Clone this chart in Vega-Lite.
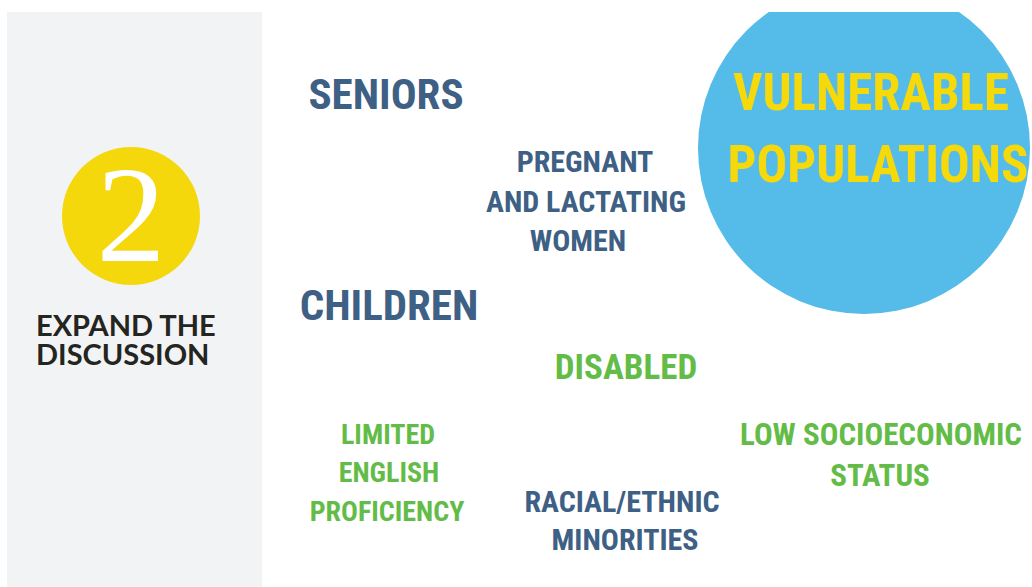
{
  "$schema": "https://vega.github.io/schema/vega-lite/v6.json",
  "width": 1032,
  "height": 587,
  "padding": 0,
  "autosize": {"type": "none"},
  "background": "#ffffff",
  "config": {"view": {"stroke": null}},
  "datasets": {
    "panels": [
      {"name": "sidebar", "x": 7, "x2": 262, "y": 12, "y2": 587}
    ],
    "masks": [
      {"name": "topmargin", "x": 600, "x2": 1032, "y": 0, "y2": 12}
    ],
    "badge": [{"name": "step", "x": 131, "y": 216}],
    "bubble": [{"name": "topic", "x": 864, "y": 148}],
    "labels": [
      {"text": "2", "x": 131, "y": 261, "tone": "white", "tier": "numeral"},
      {"text": "EXPAND THE", "x": 36, "y": 336, "tone": "dark", "tier": "caption"},
      {"text": "DISCUSSION", "x": 36, "y": 365, "tone": "dark", "tier": "caption"},
      {"text": "VULNERABLE", "x": 871, "y": 95, "tone": "yellow", "tier": "title"},
      {"text": "POPULATIONS", "x": 878, "y": 167, "tone": "yellow", "tier": "title"},
      {"text": "SENIORS", "x": 386, "y": 96, "tone": "slate", "tier": "major"},
      {"text": "CHILDREN", "x": 389, "y": 307, "tone": "slate", "tier": "major"},
      {"text": "PREGNANT", "x": 585, "y": 163, "tone": "slate", "tier": "pregnant"},
      {"text": "AND LACTATING", "x": 586, "y": 203, "tone": "slate", "tier": "pregnant"},
      {"text": "WOMEN", "x": 578, "y": 242, "tone": "slate", "tier": "pregnant"},
      {"text": "DISABLED", "x": 626, "y": 368, "tone": "green", "tier": "disabled"},
      {"text": "LIMITED", "x": 388, "y": 436, "tone": "green", "tier": "limited"},
      {"text": "ENGLISH", "x": 389, "y": 474, "tone": "green", "tier": "limited"},
      {"text": "PROFICIENCY", "x": 387, "y": 513, "tone": "green", "tier": "limited"},
      {"text": "RACIAL/ETHNIC", "x": 622, "y": 503, "tone": "slate", "tier": "racial"},
      {"text": "MINORITIES", "x": 625, "y": 541, "tone": "slate", "tier": "racial"},
      {"text": "LOW SOCIOECONOMIC", "x": 881, "y": 436, "tone": "green", "tier": "lowses"},
      {"text": "STATUS", "x": 880, "y": 477, "tone": "green", "tier": "lowses"}
    ]
  },
  "encoding": {
    "x": {"field": "x", "type": "quantitative", "scale": {"domain": [0, 1032], "nice": false, "zero": false}, "axis": null},
    "y": {"field": "y", "type": "quantitative", "scale": {"domain": [0, 587], "nice": false, "zero": false, "reverse": true}, "axis": null}
  },
  "layer": [
    {
      "data": {"name": "panels"},
      "mark": {"type": "rect", "color": "#f1f3f5"},
      "encoding": {"x2": {"field": "x2"}, "y2": {"field": "y2"}}
    },
    {
      "data": {"name": "badge"},
      "mark": {"type": "circle", "size": 19044, "color": "#f4d80c", "opacity": 1}
    },
    {
      "data": {"name": "bubble"},
      "mark": {"type": "circle", "size": 110224, "color": "#55bbe8", "opacity": 1}
    },
    {
      "data": {"name": "masks"},
      "mark": {"type": "rect", "color": "#ffffff"},
      "encoding": {"x2": {"field": "x2"}, "y2": {"field": "y2"}}
    },
    {
      "data": {"name": "labels"},
      "layer": [
        {"transform": [{"filter": "datum.tier === 'title'"}], "mark": {"type": "text", "fontSize": 51, "font": "'Roboto Condensed', sans-serif", "fontWeight": "bold", "align": "center", "baseline": "middle"}},
        {"transform": [{"filter": "datum.tier === 'major'"}], "mark": {"type": "text", "fontSize": 43, "font": "'Roboto Condensed', sans-serif", "fontWeight": "bold", "align": "center", "baseline": "middle"}},
        {"transform": [{"filter": "datum.tier === 'disabled'"}], "mark": {"type": "text", "fontSize": 35, "font": "'Roboto Condensed', sans-serif", "fontWeight": "bold", "align": "center", "baseline": "middle"}},
        {"transform": [{"filter": "datum.tier === 'lowses'"}], "mark": {"type": "text", "fontSize": 31, "font": "'Roboto Condensed', sans-serif", "fontWeight": "bold", "align": "center", "baseline": "middle"}},
        {"transform": [{"filter": "datum.tier === 'racial'"}], "mark": {"type": "text", "fontSize": 30, "font": "'Roboto Condensed', sans-serif", "fontWeight": "bold", "align": "center", "baseline": "middle"}},
        {"transform": [{"filter": "datum.tier === 'pregnant'"}], "mark": {"type": "text", "fontSize": 30, "font": "'Roboto Condensed', sans-serif", "fontWeight": "bold", "align": "center", "baseline": "middle"}},
        {"transform": [{"filter": "datum.tier === 'limited'"}], "mark": {"type": "text", "fontSize": 28, "font": "'Roboto Condensed', sans-serif", "fontWeight": "bold", "align": "center", "baseline": "middle"}},
        {"transform": [{"filter": "datum.tier === 'caption'"}], "mark": {"type": "text", "fontSize": 29, "font": "Lato, 'Open Sans', sans-serif", "fontWeight": "bold", "align": "left", "baseline": "alphabetic"}},
        {"transform": [{"filter": "datum.tier === 'numeral'"}], "mark": {"type": "text", "fontSize": 138, "font": "'Liberation Serif', serif", "fontWeight": "normal", "align": "center", "baseline": "alphabetic"}}
      ],
      "encoding": {
        "text": {"field": "text"},
        "color": {"field": "tone", "type": "nominal", "legend": null,
          "scale": {"domain": ["slate", "green", "yellow", "white", "dark"], "range": ["#3e6084", "#64bc48", "#f5d90a", "#ffffff", "#25251f"]}}
      }
    }
  ]
}
